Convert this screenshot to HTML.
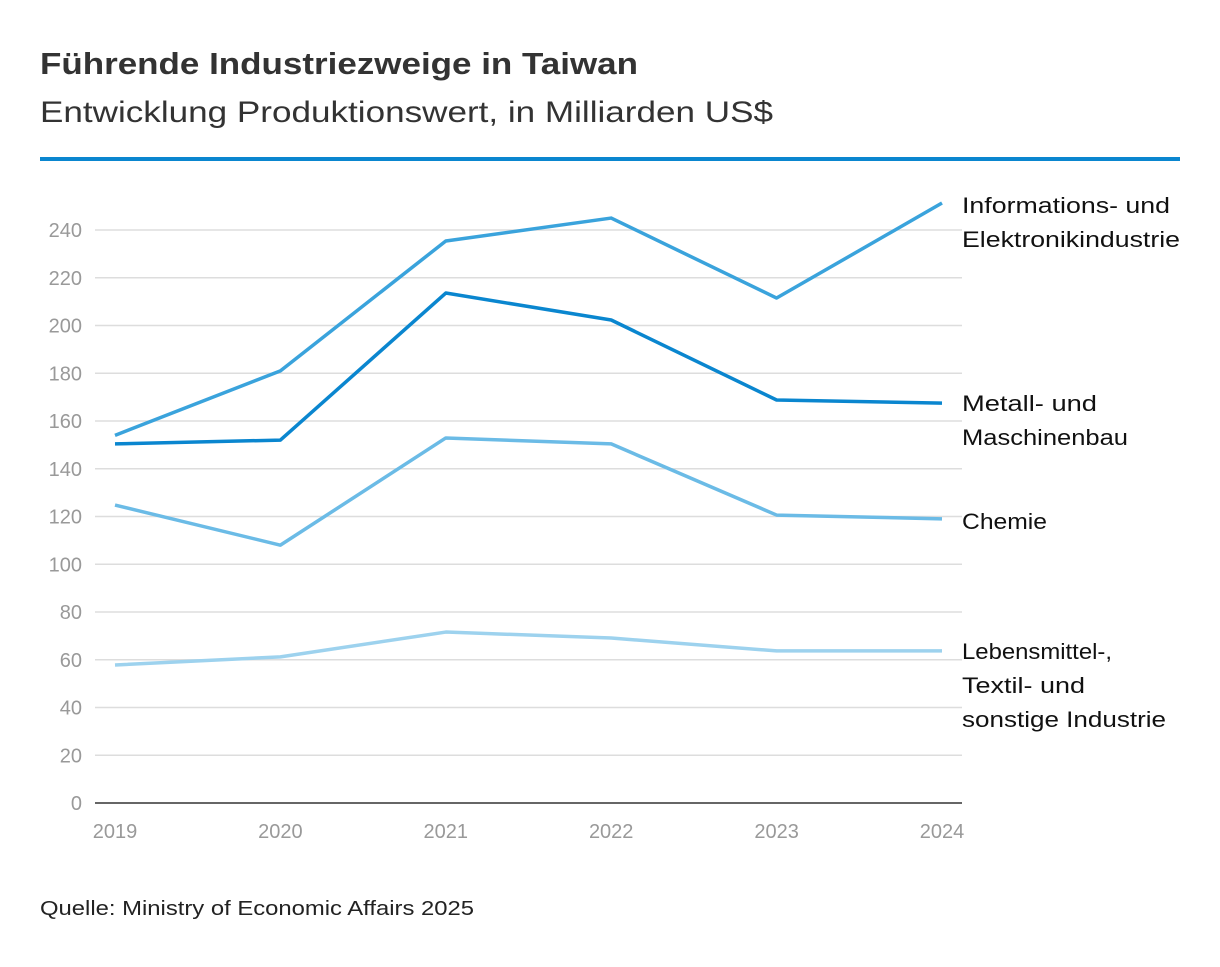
<!DOCTYPE html>
<html><head><meta charset="utf-8"><style>
body{margin:0;background:#fff;font-family:"Liberation Sans",sans-serif;}
svg text{font-family:"Liberation Sans",sans-serif;}
</style></head><body>
<svg id="chart" width="1220" height="962">
<text x="40" y="74" font-size="31" font-weight="bold" fill="#333" textLength="598" lengthAdjust="spacingAndGlyphs">Führende Industriezweige in Taiwan</text>
<text x="40" y="122" font-size="30" fill="#333" textLength="733" lengthAdjust="spacingAndGlyphs">Entwicklung Produktionswert, in Milliarden US$</text>
<rect x="40" y="157" width="1140" height="4" fill="#0a86cf"/>
<g id="grid"></g><g id="lines"></g><g id="labels"></g>
<text x="40" y="915" font-size="20" fill="#222" textLength="434" lengthAdjust="spacingAndGlyphs">Quelle: Ministry of Economic Affairs 2025</text>
</svg>
<script>
const years=["2019","2020","2021","2022","2023","2024"];
const yTicks=[0,20,40,60,80,100,120,140,160,180,200,220,240];
const info=[154,181,235.4,245,211.5,251.3];
const metall=[150.4,152,213.6,202.3,168.8,167.5];
const chemie=[124.8,108,152.9,150.4,120.6,119];
const leben=[57.8,61.2,71.6,69.1,63.7,63.7];
const ns="http://www.w3.org/2000/svg";
const x=i=>115+i*165.4;
const y=v=>803-v*573/240;
function mk(t,a,p){const e=document.createElementNS(ns,t);for(const k in a)e.setAttribute(k,a[k]);p.appendChild(e);return e;}
const g=document.getElementById('grid');
yTicks.forEach(v=>{
 if(v>0){const l=mk('line',{x1:95,x2:962,y1:y(v),y2:y(v),stroke:'#ddd','stroke-width':1.5},g);
 
 }
 const t=mk('text',{x:82,y:y(v)+7,'font-size':20,fill:'#999','text-anchor':'end'},g);t.textContent=v;
 
 
});
const ax=mk('line',{x1:95,x2:962,y1:803,y2:803,stroke:'#333','stroke-width':1.5},g);


years.forEach((yr,i)=>{const t=mk('text',{x:x(i),y:838,'font-size':20,fill:'#999','text-anchor':'middle'},g);t.textContent=yr;
 
 });
const L=document.getElementById('lines');
const series=[[leben,'#9dd2ee','leben'],[chemie,'#6bbbe6','chemie'],[metall,'#0a86cf','metall'],[info,'#3aa3dc','info']];
series.forEach(([d,c,n])=>{
 const p=mk('polyline',{points:d.map((v,i)=>x(i)+','+y(v)).join(' '),fill:'none',stroke:c,'stroke-width':3.5,'stroke-linejoin':'round'},L);
 
 
});
const lab=document.getElementById('labels');
const labs=[[["Informations- und","Elektronikindustrie"],[208,218],213,'label-info'],[["Metall- und","Maschinenbau"],[135,166],411,'label-metall'],[["Chemie"],[85],529,'label-chemie'],[["Lebensmittel-,","Textil- und","sonstige Industrie"],[150,123,204],659,'label-leben']];
labs.forEach(([ls,ws,y0,n])=>{const t=mk('text',{x:962,y:y0,'font-size':22,fill:'#111'},lab);
 
 
 ls.forEach((s,i)=>{const ts=mk('tspan',{x:962,y:y0+i*34,textLength:ws[i],lengthAdjust:'spacingAndGlyphs'},t);ts.textContent=s;});});
</script>
</body></html>
